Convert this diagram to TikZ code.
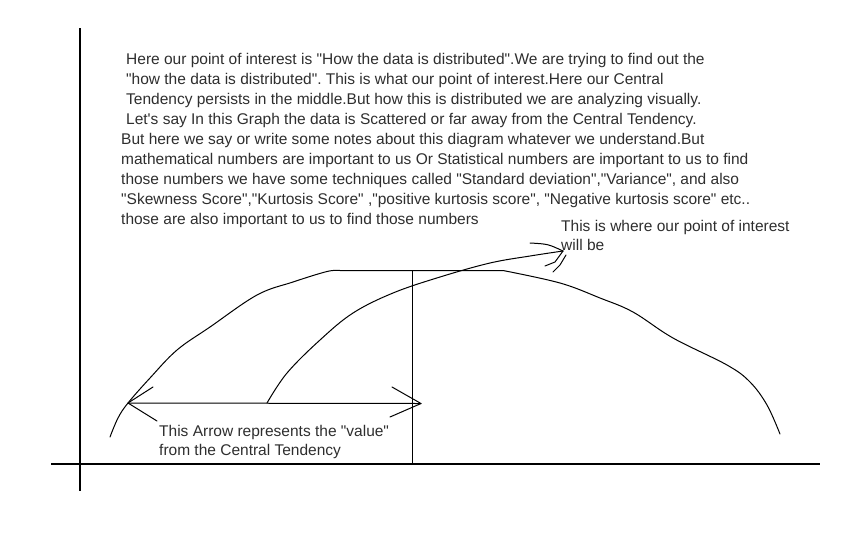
\documentclass[tikz,border=0pt]{standalone}
\usepackage{fontspec}
\setmainfont{Liberation Sans}[Ligatures=TeXOff]
\frenchspacing
\usetikzlibrary{positioning}
\tikzset{
  note/.style={anchor=north west,align=left,inner sep=0pt,text=black!82,
    font=\fontsize{15.5}{20}\selectfont},
  pen/.style={line width=1pt,line cap=round,line join=round},
  axis/.style={line width=1.3pt},
}

\begin{document}
\begin{tikzpicture}[x=1pt,y=-1pt]
  \useasboundingbox (0,0) rectangle (864,547);

  % axes
  \draw[axis] (80,28) -- (80,491);
  \draw[axis] (51,464) -- (820,464);

  % text
  \node[note] (para1) at (126,53.5) {Here our point of interest is "How the data is distributed".We are trying to find out the\\
    "how the data is distributed". This is what our point of interest.Here our Central\\
    Tendency persists in the middle.But how this is distributed we are analyzing visually.\\
    Let's say In this Graph the data is Scattered or far away from the Central Tendency.};
  \node[note] (para2) at (121,133.5) {But here we say or write some notes about this diagram whatever we understand.But\\
    mathematical numbers are important to us Or Statistical numbers are important to us to find\\
    those numbers we have some techniques called "Standard deviation","Variance", and also\\
    "Skewness Score","Kurtosis Score" ,"positive kurtosis score", "Negative kurtosis score" etc..\\
    those are also important to us to find those numbers};
  \node[note,font=\fontsize{15.5}{19}\selectfont] (peak) at (561,220.5) {This is where our point of interest\\ will be};
  \node[note,font=\fontsize{15.5}{19}\selectfont] (value) at (159,425.5) {This Arrow represents the "value"\\ from the Central Tendency};

  % the distribution
  \draw[pen] plot[smooth,tension=0.6] coordinates {(110,437) (118,418) (128,403) (150,378)
    (177,350) (210,327) (257,295) (293,282) (327,271.5) (340,270.5)}
    -- (503,270.5)
    plot[smooth,tension=0.6] coordinates {(503,270.5) (560,283) (600,298) (633,312)
    (673,338) (727,365) (750,382) (767,405) (780,434)};

  % centre line
  \coordinate (top) at (412,270.5);
  \coordinate (base) at (412,464);
  \draw[pen] (top) -- (base);

  % value arrow
  \coordinate (left) at (128,403);
  \coordinate (right) at (421,403.5);
  \draw[pen] (left) -- (right);
  \draw[pen] (153,387) -- (left) -- (157,421);
  \draw[pen] (392,387) -- (right) -- (390,417);

  % pointer to the peak
  \coordinate (tip) at (563,251);
  \draw[pen] plot[smooth,tension=0.6] coordinates {(267,403) (287,373) (320,340) (353,313)
    (393,293) (440,277) (490,263) (530,256) (563,251)};
  \draw[pen] (530,243) .. controls (548,244) .. (tip);
  \draw[pen] (545,266) -- (555,262) -- (tip);
  \draw[pen] (553,272) -- (560,265) -- (566,255);
\end{tikzpicture}
\end{document}
